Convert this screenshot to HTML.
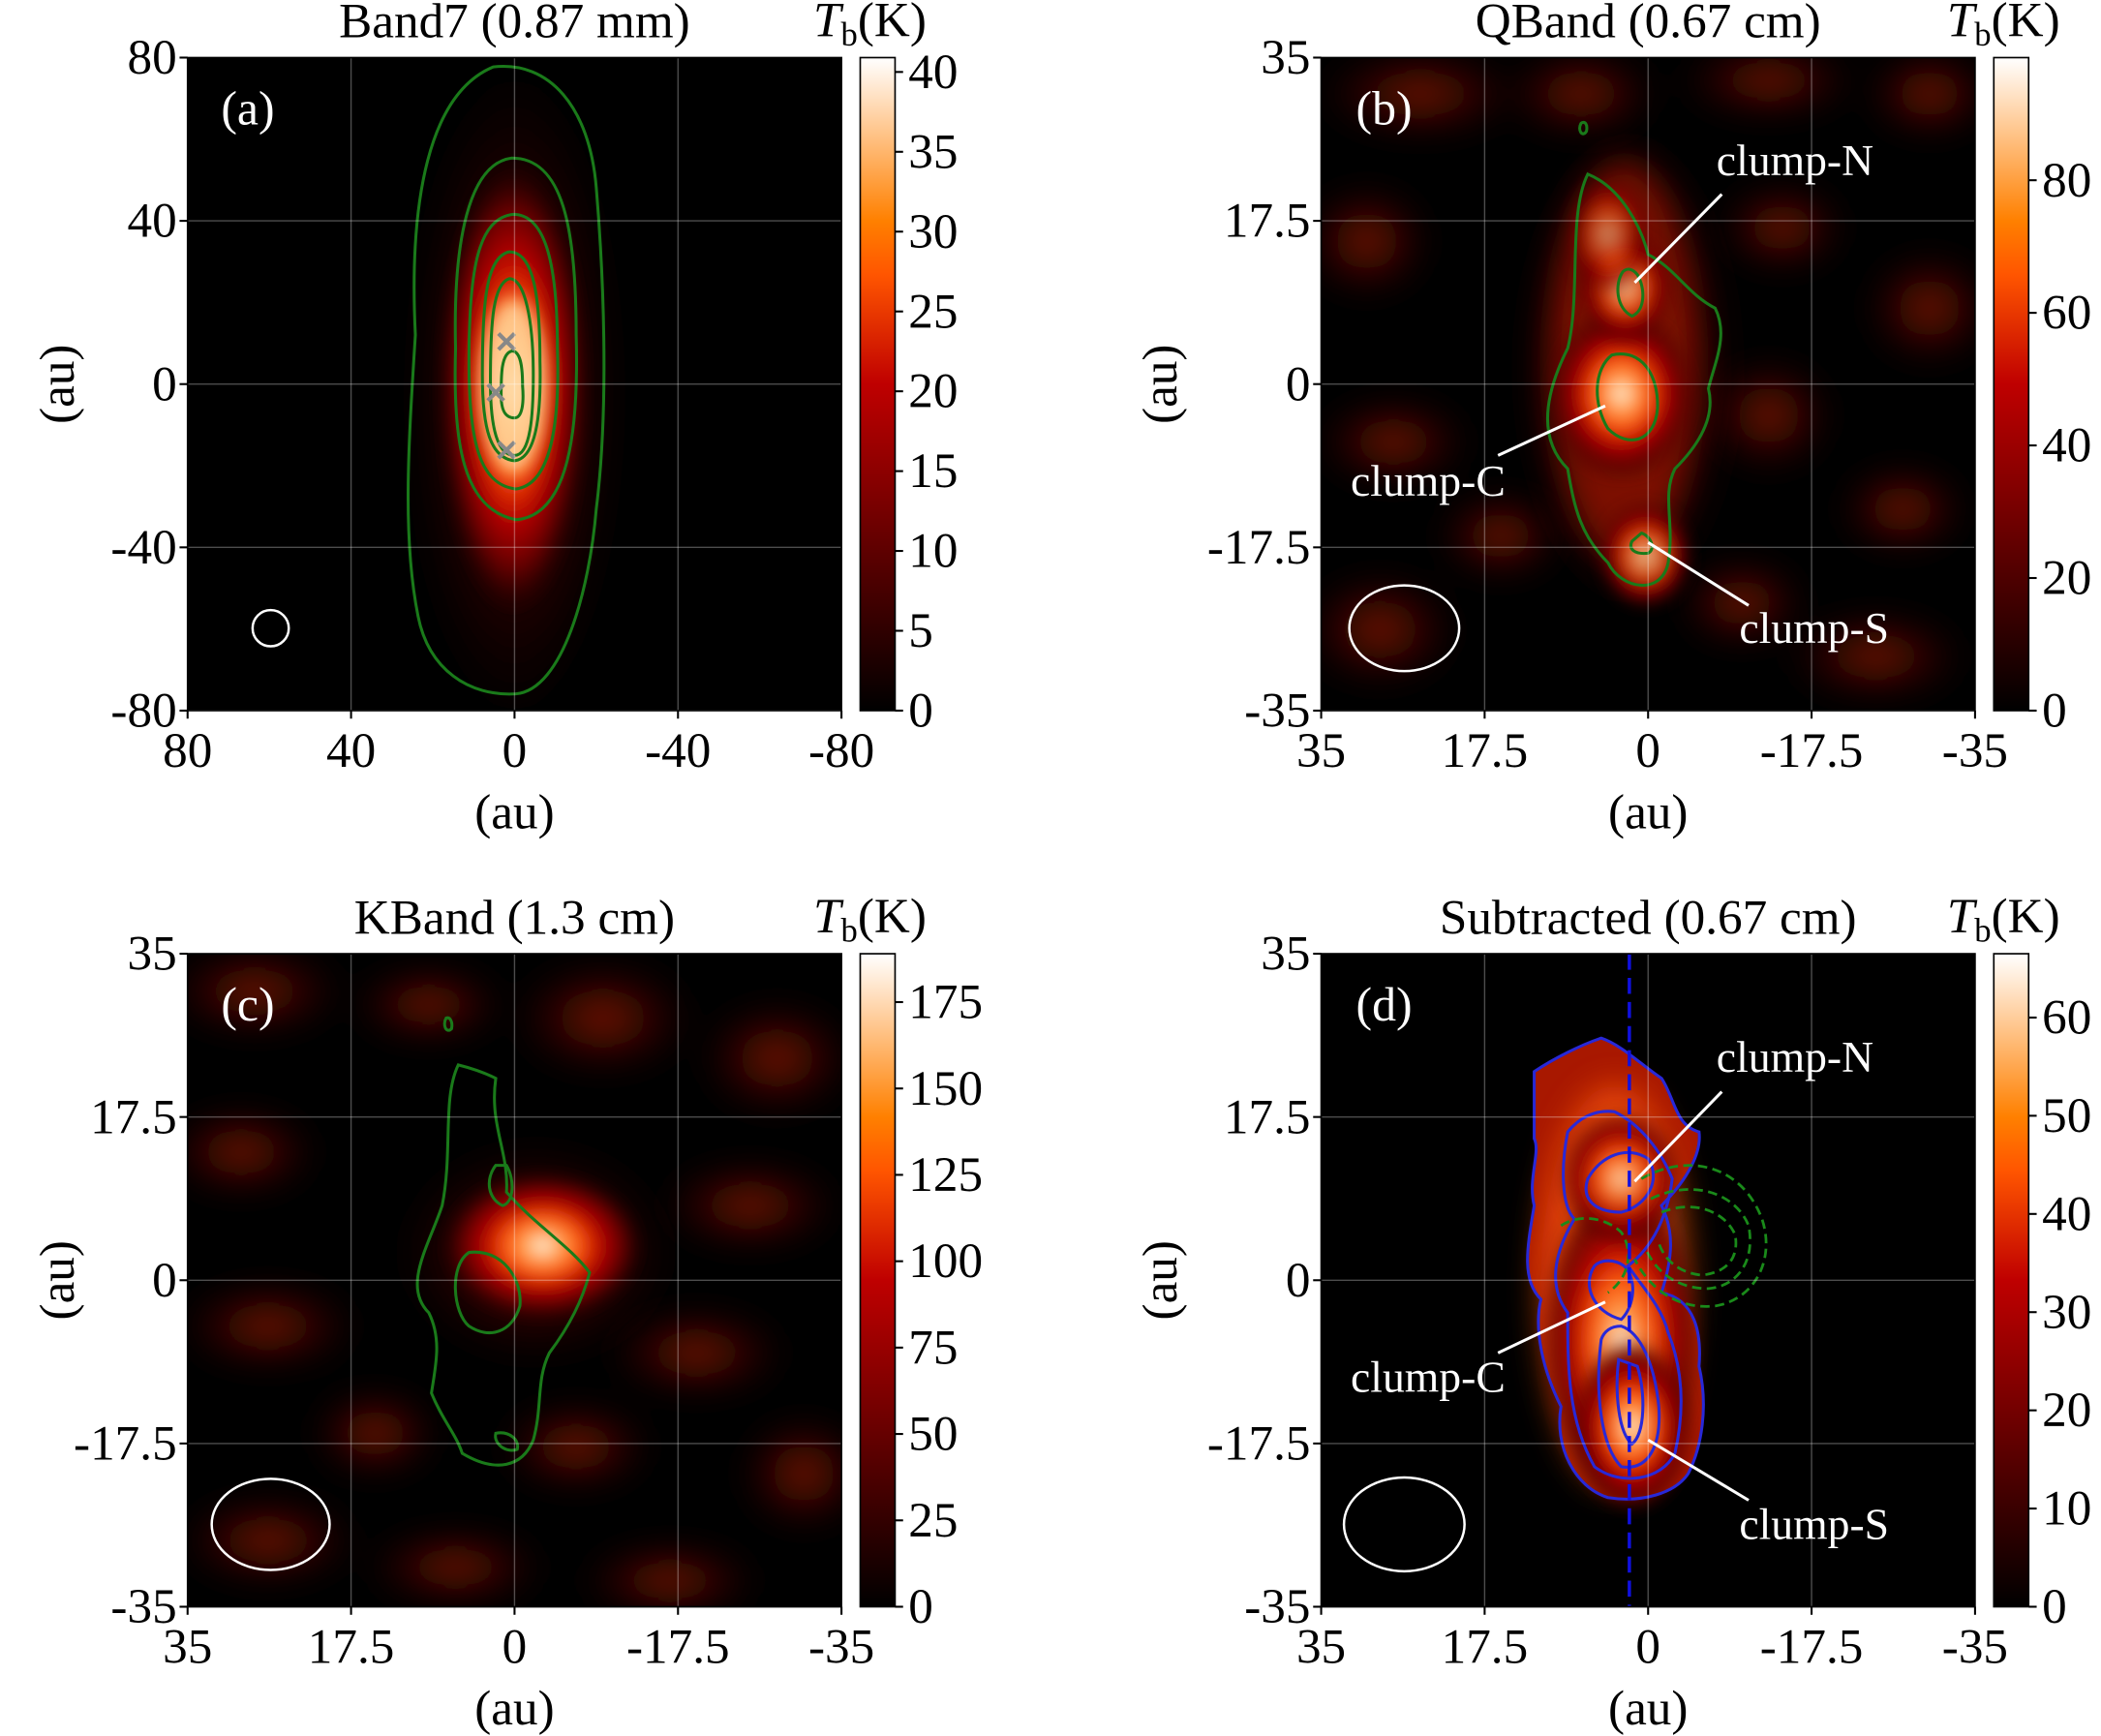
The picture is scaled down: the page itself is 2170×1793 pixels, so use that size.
<!DOCTYPE html>
<html><head><meta charset="utf-8"><style>
html,body{margin:0;padding:0;background:#fff}
svg{display:block}
text{font-family:"Liberation Serif",serif;fill:#000}
</style></head><body>
<svg id="s" width="2170" height="1793" viewBox="0 0 1568 1296" preserveAspectRatio="none" xmlns="http://www.w3.org/2000/svg">
<defs>
<linearGradient id="cm" x1="0" y1="1" x2="0" y2="0">
<stop offset="0" stop-color="#000"/><stop offset="0.333" stop-color="#800000"/><stop offset="0.5" stop-color="#bf0000"/><stop offset="0.667" stop-color="#ff5500"/><stop offset="0.75" stop-color="#ff8000"/><stop offset="0.833" stop-color="#ffaa55"/><stop offset="1" stop-color="#fff"/>
</linearGradient>
<radialGradient id="rg">
<stop offset="0" stop-color="#fff"/><stop offset="0.15" stop-color="#ffb060"/><stop offset="0.35" stop-color="#ff6010"/><stop offset="0.55" stop-color="#c00800"/><stop offset="0.8" stop-color="#600000"/><stop offset="1" stop-color="#200000" stop-opacity="0"/>
</radialGradient>
<radialGradient id="rd">
<stop offset="0" stop-color="#8a1800" stop-opacity="0.95"/><stop offset="1" stop-color="#300000" stop-opacity="0"/>
</radialGradient>
<filter id="bl" x="-50%" y="-50%" width="200%" height="200%"><feGaussianBlur stdDeviation="6"/></filter>
<filter id="bl2" x="-50%" y="-50%" width="200%" height="200%"><feGaussianBlur stdDeviation="12"/></filter>
<clipPath id="ca"><rect x="140" y="43" width="488" height="487"/></clipPath>
<clipPath id="cb"><rect x="986" y="43" width="488" height="487"/></clipPath>
<clipPath id="cc"><rect x="140" y="712" width="488" height="488"/></clipPath>
<clipPath id="cd"><rect x="986" y="712" width="488" height="488"/></clipPath>
</defs>

<!-- Panel a -->
<rect x="140" y="43" width="488" height="487" fill="#000"/>
<g clip-path="url(#ca)">
<ellipse cx="384" cy="295" rx="80" ry="250" fill="url(#rd)" filter="url(#bl2)"/>
<ellipse cx="383" cy="290" rx="55" ry="170" fill="url(#rg)" filter="url(#bl)"/>
<ellipse cx="383" cy="288" rx="24" ry="65" fill="#ffd9a0" opacity="0.8" filter="url(#bl)"/>
<g fill="none" stroke="#1a7a1a" stroke-width="2.2">
<path d="M368 50 C320 70 305 150 310 250 C305 330 300 400 312 460 C320 500 350 520 385 518 C420 515 440 440 445 380 C455 300 450 200 445 140 C440 80 410 45 368 50 Z"/>
<path d="M382 118 C350 122 338 180 340 260 C338 330 345 380 385 388 C425 385 432 320 430 250 C430 170 420 118 382 118 Z"/>
<path d="M383 160 C357 163 350 200 350 270 C350 330 358 362 385 365 C410 362 418 320 416 260 C416 200 408 160 383 160 Z"/>
<path d="M380 188 C362 192 360 230 360 280 C360 320 366 342 384 344 C400 342 404 310 403 270 C403 220 398 188 380 188 Z"/>
<path d="M380 208 C368 212 366 240 366 285 C366 322 372 340 384 340 C396 340 398 310 398 280 C398 240 392 208 380 208 Z"/>
<path d="M382 262 C374 264 374 280 374 295 C374 308 378 312 384 312 C390 312 391 300 390 288 C390 272 388 262 382 262 Z"/>
</g>
<g stroke="#888" stroke-width="3"><path d="M372 249l12 12M384 249l-12 12M364 287l12 12M376 287l-12 12M372 330l12 12M384 330l-12 12"/></g>
<circle cx="202" cy="469" r="13.5" fill="none" stroke="#fff" stroke-width="1.8"/>
</g>
<text x="165" y="93" font-size="36" style="fill:#fff">(a)</text>
<text x="384" y="28" font-size="37" text-anchor="middle">Band7 (0.87 mm)</text>

<!-- Panel b -->
<rect x="986" y="43" width="488" height="487" fill="#000"/>
<g clip-path="url(#cb)">
<g filter="url(#bl2)" fill="url(#rd)">
<ellipse cx="1060" cy="70" rx="80" ry="35"/><ellipse cx="1180" cy="70" rx="60" ry="35"/><ellipse cx="1320" cy="60" rx="70" ry="30"/><ellipse cx="1440" cy="70" rx="50" ry="35"/>
<ellipse cx="1020" cy="180" rx="50" ry="45"/><ellipse cx="1330" cy="170" rx="50" ry="35"/><ellipse cx="1440" cy="230" rx="50" ry="45"/><ellipse cx="1040" cy="330" rx="60" ry="35"/>
<ellipse cx="1320" cy="310" rx="50" ry="45"/><ellipse cx="1420" cy="380" rx="50" ry="35"/><ellipse cx="1030" cy="470" rx="60" ry="45"/><ellipse cx="1120" cy="400" rx="50" ry="35"/><ellipse cx="1400" cy="490" rx="70" ry="35"/><ellipse cx="1300" cy="450" rx="50" ry="35"/>
</g>
<ellipse cx="1215" cy="275" rx="85" ry="185" fill="url(#rd)" filter="url(#bl2)"/>
<ellipse cx="1212" cy="270" rx="55" ry="150" fill="#a01800" opacity="0.7" filter="url(#bl2)"/>
<ellipse cx="1210" cy="294" rx="55" ry="65" fill="url(#rg)" filter="url(#bl)"/>
<ellipse cx="1213" cy="215" rx="35" ry="42" fill="url(#rg)" opacity="0.85" filter="url(#bl)"/>
<ellipse cx="1228" cy="415" rx="35" ry="40" fill="url(#rg)" opacity="0.85" filter="url(#bl)"/>
<ellipse cx="1200" cy="175" rx="30" ry="45" fill="url(#rg)" opacity="0.6" filter="url(#bl)"/>
<g fill="none" stroke="#1a7a1a" stroke-width="2.2">
<path d="M1185 130 C1170 160 1180 220 1170 260 C1150 300 1150 330 1170 350 C1175 380 1180 400 1200 420 C1210 440 1240 445 1245 420 C1250 390 1240 370 1250 350 C1270 330 1280 310 1275 290 C1280 270 1290 250 1280 230 C1260 220 1250 200 1230 190 C1225 170 1210 140 1185 130 Z"/>
<path d="M1203 265 C1190 275 1188 300 1200 320 C1215 335 1235 330 1237 305 C1238 280 1225 260 1203 265 Z"/>
<path d="M1211 203 C1205 212 1206 230 1218 236 C1228 232 1228 215 1222 205 C1218 200 1214 200 1211 203 Z"/>
<path d="M1218 404 C1215 410 1220 414 1230 413 C1236 410 1232 400 1225 398 Z"/>
<path d="M1180 92 C1177 97 1181 103 1184 98 C1185 93 1183 90 1180 92 Z"/>
</g>
<ellipse cx="1048" cy="469" rx="41" ry="32" fill="none" stroke="#fff" stroke-width="1.8"/>
</g>
<g stroke="#fff" stroke-width="2.2"><line x1="1220" y1="211" x2="1285" y2="145"/><line x1="1198" y1="303" x2="1118" y2="340"/><line x1="1230" y1="405" x2="1305" y2="452"/></g>
<g font-size="33"><text x="1281" y="131" style="fill:#fff">clump-N</text><text x="1008" y="370" style="fill:#fff">clump-C</text><text x="1298" y="480" style="fill:#fff">clump-S</text><text x="1012" y="93" font-size="36" style="fill:#fff">(b)</text></g>
<text x="1230" y="28" font-size="37" text-anchor="middle">QBand (0.67 cm)</text>

<!-- Panel c -->
<rect x="140" y="712" width="488" height="488" fill="#000"/>
<g clip-path="url(#cc)">
<g filter="url(#bl2)" fill="url(#rd)">
<ellipse cx="190" cy="740" rx="70" ry="35"/><ellipse cx="320" cy="750" rx="60" ry="30"/><ellipse cx="450" cy="760" rx="70" ry="45"/><ellipse cx="580" cy="790" rx="60" ry="45"/>
<ellipse cx="180" cy="860" rx="60" ry="35"/><ellipse cx="560" cy="900" rx="70" ry="35"/><ellipse cx="200" cy="990" rx="70" ry="35"/><ellipse cx="520" cy="1010" rx="70" ry="35"/>
<ellipse cx="430" cy="1080" rx="60" ry="35"/><ellipse cx="600" cy="1100" rx="50" ry="45"/><ellipse cx="200" cy="1150" rx="70" ry="35"/><ellipse cx="340" cy="1170" rx="70" ry="30"/><ellipse cx="500" cy="1180" rx="70" ry="30"/><ellipse cx="280" cy="1070" rx="50" ry="35"/>
</g>
<ellipse cx="400" cy="935" rx="105" ry="85" fill="url(#rd)" filter="url(#bl2)"/>
<ellipse cx="405" cy="930" rx="75" ry="55" fill="url(#rg)" filter="url(#bl)"/>
<g fill="none" stroke="#1a7a1a" stroke-width="2.2">
<path d="M342 795 C330 820 338 860 330 900 C320 930 300 960 320 980 C330 1000 325 1020 322 1040 C330 1060 340 1070 345 1085 C370 1100 390 1095 398 1075 C405 1050 400 1030 410 1010 C425 990 435 970 440 950 C425 930 400 915 378 890 C380 860 365 840 370 805 C360 800 350 797 342 795 Z"/>
<path d="M350 935 C335 945 338 980 350 990 C365 1000 382 995 388 975 C390 955 375 932 350 935 Z"/>
<path d="M370 870 C362 880 364 895 375 900 C384 898 384 880 378 870 Z"/>
<path d="M370 1070 C368 1078 378 1085 386 1082 C388 1075 380 1068 370 1070 Z"/>
<path d="M333 760 C330 765 333 772 337 768 C338 763 336 759 333 760 Z"/>
</g>
<ellipse cx="202" cy="1138" rx="44" ry="34" fill="none" stroke="#fff" stroke-width="1.8"/>
</g>
<text x="165" y="762" font-size="36" style="fill:#fff">(c)</text>
<text x="384" y="697" font-size="37" text-anchor="middle">KBand (1.3 cm)</text>

<!-- Panel d -->
<rect x="986" y="712" width="488" height="488" fill="#000"/>
<g clip-path="url(#cd)">
<path d="M1145 850 C1150 860 1140 880 1145 900 C1140 930 1135 955 1150 970 C1145 990 1150 1020 1165 1050 C1160 1080 1175 1110 1200 1118 C1225 1122 1250 1115 1260 1100 C1270 1080 1275 1050 1268 1020 C1270 995 1265 970 1240 965 C1248 940 1250 920 1240 900 C1260 880 1270 860 1268 845 C1250 840 1250 820 1240 805 C1225 795 1210 780 1195 775 C1180 780 1160 790 1145 800 Z" fill="#a81800"/>
<ellipse cx="1205" cy="960" rx="55" ry="150" fill="#ff5a10" opacity="0.7" filter="url(#bl2)"/>
<ellipse cx="1210" cy="1000" rx="60" ry="120" fill="url(#rg)" opacity="0.9" filter="url(#bl)"/>
<ellipse cx="1218" cy="1065" rx="45" ry="65" fill="url(#rg)" filter="url(#bl)"/>
<ellipse cx="1210" cy="880" rx="45" ry="50" fill="url(#rg)" opacity="0.85" filter="url(#bl)"/>
<g fill="none" stroke="#2828d8" stroke-width="2.2">
<path d="M1145 850 C1150 860 1140 880 1145 900 C1140 930 1135 955 1150 970 C1145 990 1150 1020 1165 1050 C1160 1080 1175 1110 1200 1118 C1225 1122 1250 1115 1260 1100 C1270 1080 1275 1050 1268 1020 C1270 995 1265 970 1240 965 C1248 940 1250 920 1240 900 C1260 880 1270 860 1268 845 C1250 840 1250 820 1240 805 C1225 795 1210 780 1195 775 C1180 780 1160 790 1145 800 Z"/>
<path d="M1170 845 C1165 870 1165 900 1175 910 C1160 935 1155 960 1170 980 C1170 1020 1170 1060 1190 1095 C1210 1110 1240 1105 1250 1085 C1258 1050 1255 1020 1245 995 C1240 975 1225 960 1215 945 C1235 930 1245 905 1248 880 C1240 860 1225 840 1205 830 C1190 828 1178 835 1170 845 Z"/>
<path d="M1185 880 C1180 895 1190 905 1210 905 C1230 900 1240 880 1230 865 C1215 855 1195 862 1185 880 Z"/>
<path d="M1190 945 C1180 960 1190 980 1210 985 C1220 975 1222 955 1212 945 C1205 940 1195 940 1190 945 Z"/>
<path d="M1195 1000 C1190 1040 1195 1080 1210 1095 C1230 1098 1240 1080 1238 1050 C1235 1020 1225 995 1210 990 C1202 990 1197 994 1195 1000 Z"/>
<path d="M1208 1015 C1205 1040 1208 1070 1218 1078 C1228 1070 1228 1040 1222 1020 Z"/>
</g>
<g fill="none" stroke="#1a8a1a" stroke-width="2" stroke-dasharray="7,4">
<path d="M1225 880 C1260 860 1300 870 1315 910 C1325 940 1310 970 1280 975 C1250 978 1230 960 1220 940"/>
<path d="M1232 895 C1262 880 1295 890 1305 915 C1310 940 1298 960 1275 962 C1250 962 1235 948 1228 932"/>
<path d="M1240 905 C1265 895 1288 905 1295 922 C1298 940 1288 950 1270 952 C1252 950 1242 940 1238 928"/>
<path d="M1165 915 C1180 905 1200 910 1210 920 C1220 935 1215 955 1200 965"/>
</g>
<line x1="1216" y1="712" x2="1216" y2="1200" stroke="#1010e0" stroke-width="2.5" stroke-dasharray="12,6"/>
<ellipse cx="1048" cy="1138" rx="45" ry="35" fill="none" stroke="#fff" stroke-width="1.8"/>
</g>
<g stroke="#fff" stroke-width="2.2"><line x1="1220" y1="882" x2="1285" y2="815"/><line x1="1198" y1="972" x2="1118" y2="1010"/><line x1="1230" y1="1075" x2="1305" y2="1120"/></g>
<g font-size="33"><text x="1281" y="800" style="fill:#fff">clump-N</text><text x="1008" y="1039" style="fill:#fff">clump-C</text><text x="1298" y="1149" style="fill:#fff">clump-S</text><text x="1012" y="762" font-size="36" style="fill:#fff">(d)</text></g>
<text x="1230" y="697" font-size="37" text-anchor="middle">Subtracted (0.67 cm)</text>

<g id="gen"></g>
</svg>
<script>
const NS="http://www.w3.org/2000/svg",g=document.getElementById('gen');
function el(t,a,txt){const e=document.createElementNS(NS,t);for(const k in a)e.setAttribute(k,a[k]);if(txt!==undefined)e.textContent=txt;g.appendChild(e);return e;}
function panel(x0,y0,xl,yl,yoff){
  const w=488,h=487.5;
  for(let i=0;i<5;i++){
    const x=x0+i*w/4,y=y0+i*h/4;
    if(i>0&&i<4){el('line',{x1:x,y1:y0,x2:x,y2:y0+h,stroke:'#fff','stroke-opacity':0.3,'stroke-width':1});
    el('line',{x1:x0,y1:y,x2:x0+w,y2:y,stroke:'#fff','stroke-opacity':0.3,'stroke-width':1});}
    el('line',{x1:x,y1:y0+h,x2:x,y2:y0+h+6,stroke:'#000','stroke-width':1.5});
    el('line',{x1:x0-6,y1:y,x2:x0,y2:y,stroke:'#000','stroke-width':1.5});
    el('text',{x:x,y:y0+h+42,'font-size':37,'text-anchor':'middle'},xl[i]);
    el('text',{x:x0-8,y:y+12,'font-size':37,'text-anchor':'end'},yl[i]);
  }
  el('rect',{x:x0,y:y0,width:w,height:h,fill:'none',stroke:'#000','stroke-width':1.2});
  el('text',{x:x0+w/2,y:y0+h+88,'font-size':37,'text-anchor':'middle'},'(au)');
  el('text',{x:0,y:0,'font-size':37,'text-anchor':'middle',transform:`translate(${x0-yoff},${y0+h/2}) rotate(-90)`},'(au)');
}
function cbar(x0,y0,vmax,ticks){
  const h=487.5;
  el('rect',{x:x0,y:y0,width:26,height:h,fill:'url(#cm)',stroke:'#000','stroke-width':1.2});
  ticks.forEach(v=>{const y=y0+h-v/vmax*h;
    el('line',{x1:x0+26,y1:y,x2:x0+32,y2:y,stroke:'#000','stroke-width':1.5});
    el('text',{x:x0+36,y:y+12,'font-size':37},String(v));});
  const t=el('text',{x:x0-35,y:y0-16,'font-size':37});
  t.innerHTML='<tspan font-style="italic">T</tspan><tspan font-size="25" dy="7">b</tspan><tspan dy="-7">(K)</tspan>';
}
const a1=['80','40','0','-40','-80'],a2=['35','17.5','0','-17.5','-35'];
panel(140,43,a1,a1,85);panel(986,43,a2,a2,108);panel(140,712,a2,a2,85);panel(986,712,a2,a2,108);
cbar(642,43,40.9,[0,5,10,15,20,25,30,35,40]);
cbar(1488,43,98.5,[0,20,40,60,80]);
cbar(642,712,189,[0,25,50,75,100,125,150,175]);
cbar(1488,712,66.5,[0,10,20,30,40,50,60]);
</script>
</body></html>
